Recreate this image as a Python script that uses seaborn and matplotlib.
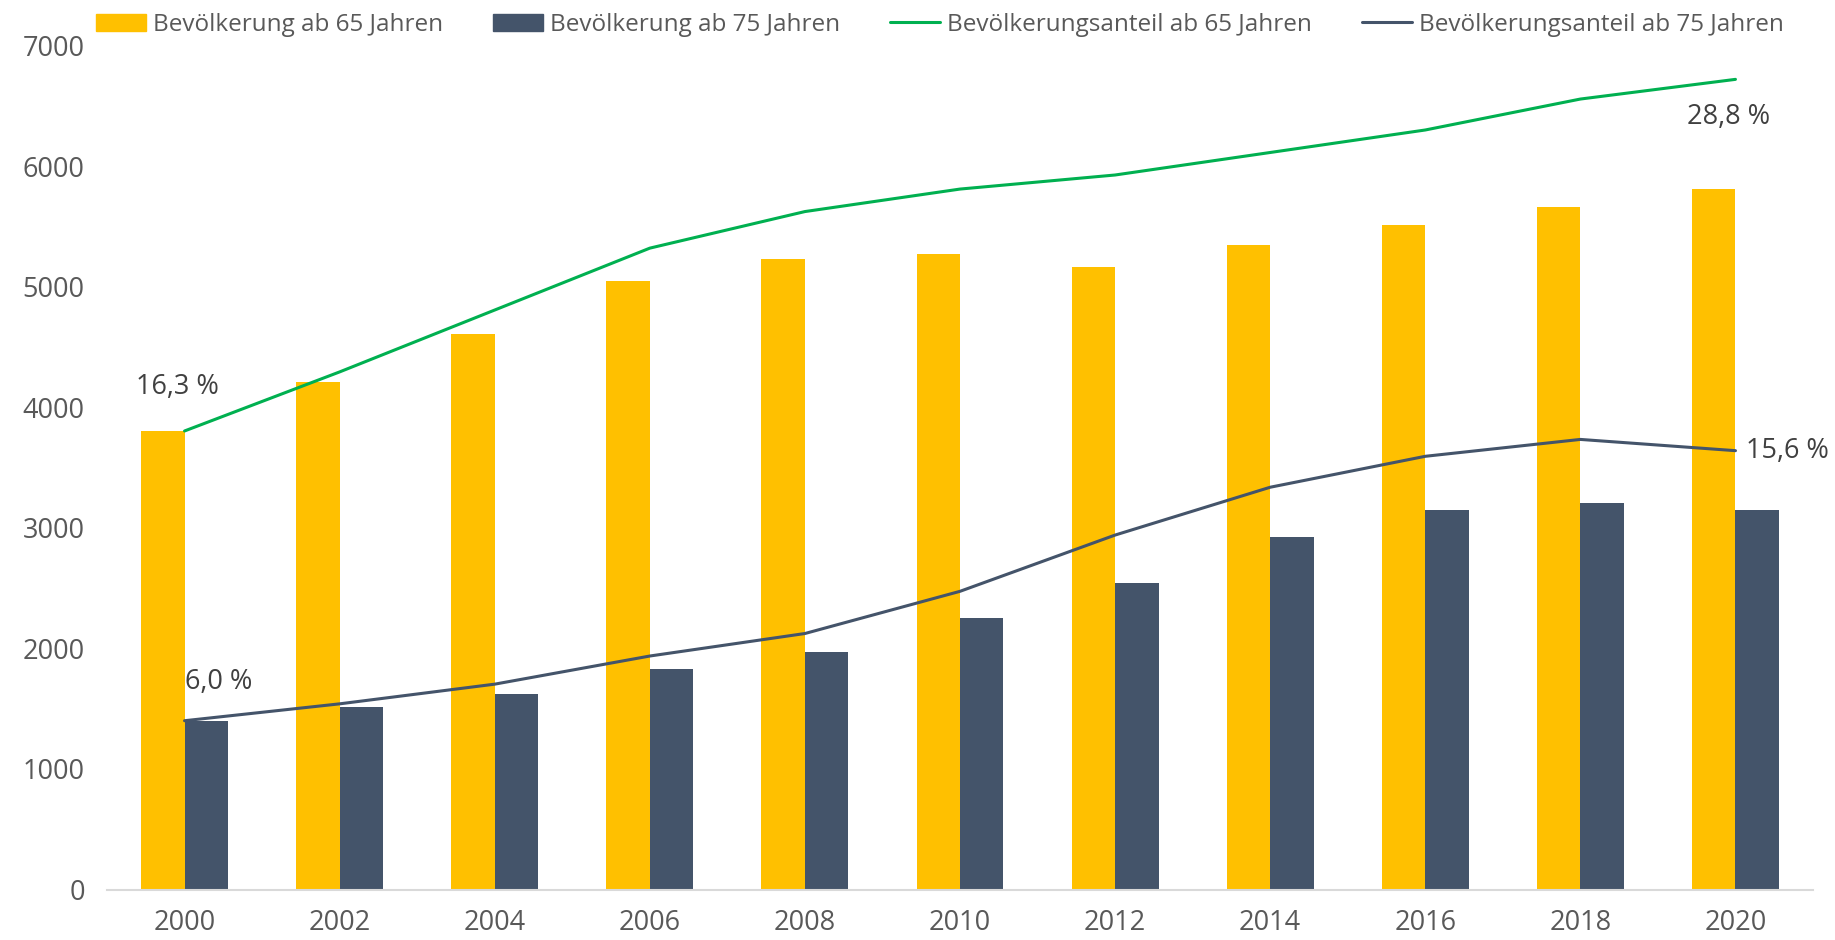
import numpy as np
import pandas as pd
import matplotlib
matplotlib.use("Agg")
import matplotlib.pyplot as plt
import seaborn as sns
from matplotlib.patches import Patch
from matplotlib.lines import Line2D

years = ["2000", "2002", "2004", "2006", "2008", "2010", "2012", "2014", "2016", "2018", "2020"]
pop65 = [3800, 4210, 4610, 5050, 5230, 5270, 5160, 5350, 5510, 5660, 5810]
pop75 = [1400, 1515, 1620, 1825, 1970, 2250, 2540, 2920, 3150, 3210, 3150]
share65 = [16.3, 18.4, 20.6, 22.8, 24.1, 24.9, 25.4, 26.2, 27.0, 28.1, 28.8]
share75 = [6.0, 6.6, 7.3, 8.3, 9.1, 10.6, 12.6, 14.3, 15.4, 16.0, 15.6]
series_names = ["Bevölkerung ab 65 Jahren", "Bevölkerung ab 75 Jahren",
                "Bevölkerungsanteil ab 65 Jahren", "Bevölkerungsanteil ab 75 Jahren"]

YELLOW = "#FFC000"
SLATE = "#44546A"
GREEN = "#00B050"

sns.set_theme(style="white")
plt.rcParams["font.family"] = ["Open Sans", "DejaVu Sans"]

df = pd.DataFrame({
    "Jahr": years * 2,
    "Wert": pop65 + pop75,
    "Serie": [series_names[0]] * len(years) + [series_names[1]] * len(years),
})

fig = plt.figure(figsize=(18.35, 9.4), dpi=100)
ax = fig.add_axes([107 / 1835, (940 - 889.5) / 940, (1813 - 107) / 1835, (889.5 - 45.6) / 940])

sns.barplot(data=df, x="Jahr", y="Wert", hue="Serie", order=years,
            hue_order=series_names[:2], palette=[YELLOW, SLATE],
            width=0.56, gap=0, saturation=1, linewidth=0, ax=ax, legend=False)
ax.set_ylim(0, 7000)
ax.set_xlim(-0.5, len(years) - 0.5)
ax.set_yticks(range(0, 7001, 1000))
ax.set_xlabel("")
ax.set_ylabel("")
for s in ["top", "right", "left"]:
    ax.spines[s].set_visible(False)
ax.spines["bottom"].set_color("#D9D9D9")
ax.spines["bottom"].set_linewidth(1.5)
ax.tick_params(axis="both", length=0, labelsize=19.5, colors="#595959")
ax.tick_params(axis="x", pad=14)
ax.tick_params(axis="y", pad=16)

ax2 = ax.twinx()
xpos = np.arange(len(years))
sns.lineplot(x=xpos, y=share65, color=GREEN, linewidth=2.2, ax=ax2)
sns.lineplot(x=xpos, y=share75, color=SLATE, linewidth=2.2, ax=ax2)
ax2.set_ylim(0, 30)
ax2.set_xlim(-0.5, len(years) - 0.5)
ax2.axis("off")

lab_kw = dict(textcoords="offset pixels", fontsize=19.5, color="#404040")
ax2.annotate("16,3 %", (xpos[0], share65[0]), xytext=(-7, 44), ha="center", va="center", **lab_kw)
ax2.annotate("28,8 %", (xpos[-1], share65[-1]), xytext=(-7, -38), ha="center", va="center", **lab_kw)
ax2.annotate("6,0 %", (xpos[0], share75[0]), xytext=(0, 39), ha="left", va="center", **lab_kw)
ax2.annotate("15,6 %", (xpos[-1], share75[-1]), xytext=(11, 0), ha="left", va="center", **lab_kw)

handles = [Patch(color=YELLOW), Patch(color=SLATE),
           Line2D([], [], color=GREEN, linewidth=2.2), Line2D([], [], color=SLATE, linewidth=2.2)]
leg = fig.legend(handles, series_names, loc="center left", bbox_to_anchor=(96 / 1835, 1 - 25 / 940),
                 ncol=4, frameon=False, fontsize=17.5, handlelength=2.05, handletextpad=0.3,
                 columnspacing=2.05, borderaxespad=0, borderpad=0)
for t in leg.get_texts():
    t.set_color("#595959")

fig.savefig("out.png", dpi=100)
